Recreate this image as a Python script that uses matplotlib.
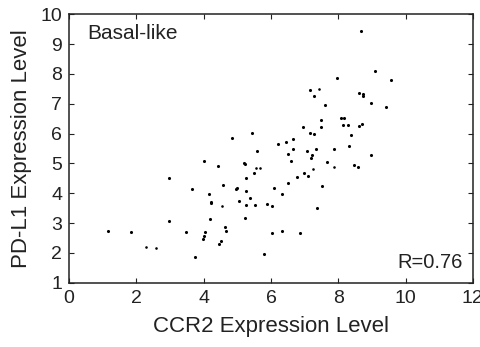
import matplotlib
matplotlib.use("Agg")
import matplotlib.pyplot as plt
import numpy as np

# CCR2 (x) vs PD-L1 (y) expression, basal-like subtype
ccr2 = [8.67, 7.95, 9.09, 9.58, 8.63, 8.74, 8.74, 7.61, 8.98, 9.42,
        7.48, 7.48, 8.09, 8.16, 8.14, 8.30, 8.62, 8.70, 8.37, 7.88,
        8.31, 7.17, 7.29, 6.95, 7.17, 7.28, 6.66, 6.45, 6.22, 5.45,
        4.85, 6.65, 7.33, 7.07, 5.58, 4.00, 4.42, 5.20, 5.23, 5.49,
        5.27, 3.65, 4.58, 4.95, 4.99, 5.26, 6.09, 4.16, 5.39, 4.21,
        4.22, 5.06, 5.27, 5.53, 5.89, 6.03, 4.20, 5.22, 4.64, 4.67,
        4.05, 4.01, 3.97, 4.52, 4.45, 6.03, 3.74, 5.78, 6.50, 6.61,
        7.21, 7.20, 7.67, 8.47, 8.59, 6.99, 7.10, 6.78, 6.50, 7.52,
        6.32, 7.36, 6.32, 6.87, 8.96, 1.17, 1.83, 2.98, 2.97, 3.46]
pdl1 = [9.43, 7.85, 8.10, 7.80, 7.37, 7.32, 7.25, 6.95, 7.03, 6.90,
        6.45, 6.23, 6.51, 6.52, 6.30, 6.28, 6.25, 6.32, 5.94, 5.48,
        5.58, 7.46, 7.25, 6.23, 6.01, 5.97, 5.83, 5.73, 5.64, 6.01,
        5.86, 5.49, 5.50, 5.41, 5.43, 5.09, 4.90, 5.03, 4.99, 4.68,
        4.51, 4.16, 4.27, 4.15, 4.19, 4.09, 4.19, 3.96, 3.85, 3.71,
        3.66, 3.74, 3.62, 3.62, 3.63, 3.57, 3.14, 3.16, 2.87, 2.74,
        2.70, 2.57, 2.48, 2.40, 2.29, 2.66, 1.86, 1.98, 5.30, 5.09,
        5.27, 5.18, 5.06, 4.94, 4.88, 4.69, 4.59, 4.55, 4.35, 4.23,
        3.96, 3.50, 2.74, 2.67, 5.27, 2.74, 2.70, 4.51, 3.07, 2.69]
# faint (small) points
ccr2_faint = [7.42, 5.55, 5.68, 4.54, 7.88, 7.25, 2.29, 2.58]
pdl1_faint = [7.50, 4.84, 4.84, 3.56, 4.87, 4.82, 2.20, 2.17]

r_text = "R=0.76"
subtype = "Basal-like"

plt.rcParams["font.family"] = ["Liberation Sans", "DejaVu Sans"]

fig = plt.figure(figsize=(4.8, 3.47), dpi=100)
ax = fig.add_axes([0.144, 0.185, 0.841, 0.774])

ax.scatter(ccr2, pdl1, s=5, color="black", linewidths=0)
ax.scatter(ccr2_faint, pdl1_faint, s=3.5, color="black", linewidths=0)

ax.set_xlim(0, 12)
ax.set_ylim(1, 10)
ax.set_xticks(np.arange(0, 13, 2))
ax.set_yticks(np.arange(1, 11, 1))
ax.tick_params(direction="in", top=True, right=True, length=3.5, width=0.8,
               labelsize=14, colors="#222222", pad=5)
for sp in ax.spines.values():
    sp.set_linewidth(1.1)
    sp.set_color("#222222")

ax.set_xlabel("CCR2 Expression Level", fontsize=16, color="#222222", labelpad=7)
ax.set_ylabel("PD-L1 Expression Level", fontsize=16, color="#222222", labelpad=6)

ax.text(0.045, 0.965, subtype, transform=ax.transAxes, ha="left", va="top",
        fontsize=15, color="#222222")
ax.text(0.975, 0.04, r_text, transform=ax.transAxes, ha="right", va="bottom",
        fontsize=14.5, color="#222222")

fig.savefig("out.png", dpi=100)
